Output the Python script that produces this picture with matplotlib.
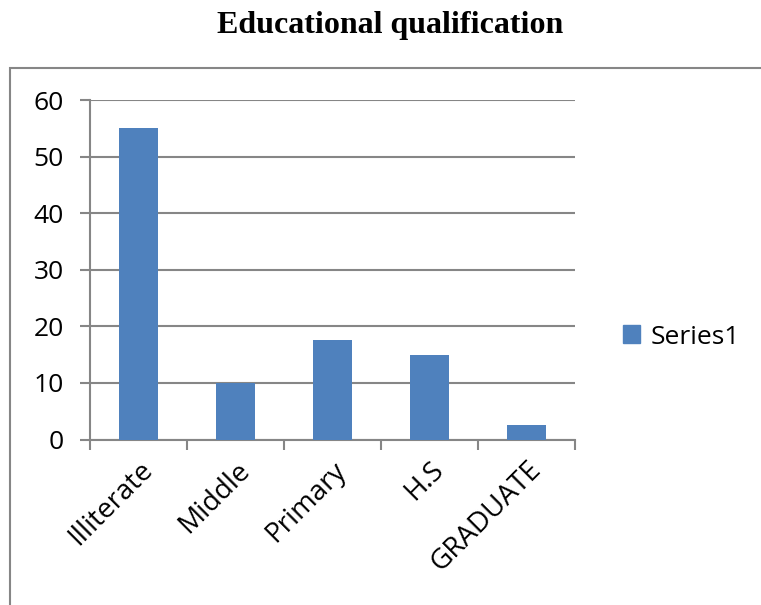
import matplotlib.pyplot as plt
import matplotlib.patches as mpatches
import numpy as np

# data
categories = ["Illiterate", "Middle", "Primary", "H.S", "GRADUATE"]
values = [55, 10, 17.5, 15, 2.5]
y_ticks = [0, 10, 20, 30, 40, 50, 60]

BAR_COLOR = "#4F81BD"
GRID_COLOR = "#868686"

plt.rcParams['font.family'] = ['Open Sans', 'DejaVu Sans']

fig = plt.figure(figsize=(7.61, 6.05), dpi=100)
ax = fig.add_axes([90 / 761, 1 - 439.5 / 605, (575 - 90) / 761, (439.5 - 100) / 605])

x = np.arange(len(categories))
ax.bar(x, values, width=0.41, color=BAR_COLOR, zorder=3, label="Series1")

ax.set_xlim(-0.5, len(categories) - 0.5)
ax.set_ylim(0, 60)
ax.set_yticks(y_ticks)
ax.yaxis.grid(True, color=GRID_COLOR, linewidth=1.5, zorder=0)

# ticks at category borders, labels at centres
ax.set_xticks(np.arange(-0.5, len(categories), 1.0))
ax.set_xticklabels([])
ax.set_xticks(x, minor=True)
ax.set_xticklabels(categories, minor=True, rotation=45, ha='right',
                   rotation_mode='anchor', fontsize=20)
ax.tick_params(axis='x', which='minor', length=0, pad=12)
ax.tick_params(axis='x', which='major', length=7, width=1.5, color=GRID_COLOR)
ax.tick_params(axis='y', length=7, width=1.5, color=GRID_COLOR, labelsize=19, pad=12)

for side in ['top', 'right']:
    ax.spines[side].set_visible(False)
for side in ['left', 'bottom']:
    ax.spines[side].set_color(GRID_COLOR)
    ax.spines[side].set_linewidth(1.5)

fig.text(0.5125, 1 - 25 / 605, "Educational qualification", ha='center', va='center',
         fontsize=23, fontweight='bold', family='Liberation Serif')

fig.legend(handles=[mpatches.Patch(color=BAR_COLOR, label="Series1")],
           loc='center left', bbox_to_anchor=(623 / 761, 1 - 337 / 605),
           frameon=False, fontsize=19, handlelength=0.65, handleheight=0.65,
           handletextpad=0.4, borderpad=0, borderaxespad=0)

# chart border (runs past the right and bottom edges)
fig.patches.append(mpatches.Rectangle((9.5 / 761, -0.1), 1.2, 1 - 67.5 / 605 + 0.1,
                                      transform=fig.transFigure, fill=False,
                                      edgecolor=GRID_COLOR, linewidth=1.5))

fig.savefig("out.png", dpi=100)
